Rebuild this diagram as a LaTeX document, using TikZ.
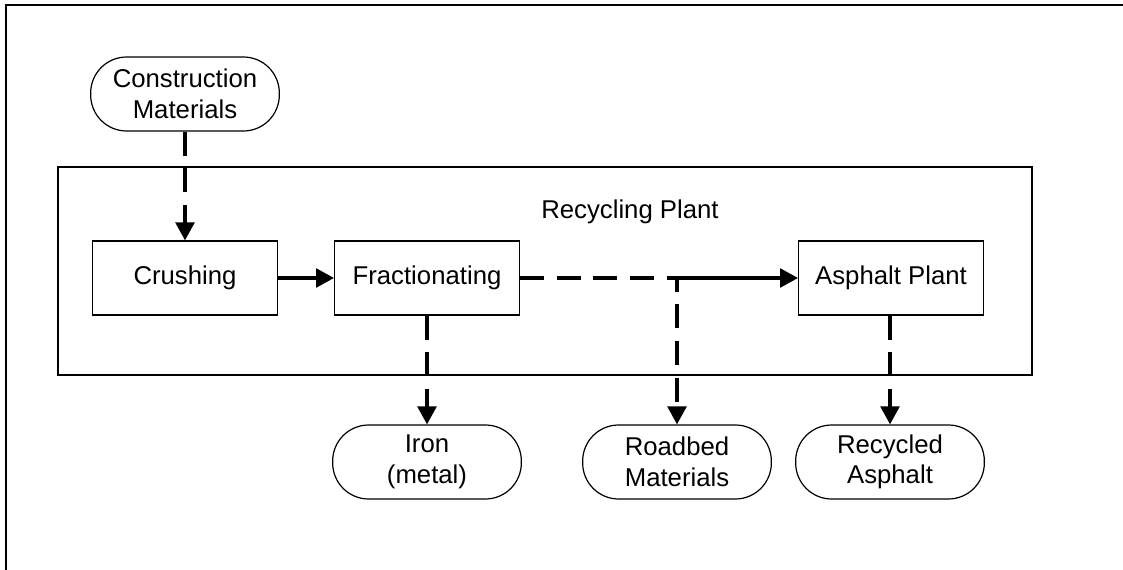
\documentclass[tikz,border=0pt]{standalone}
\usepackage{fontspec}
\setmainfont{Liberation Sans}
\usepackage{tikz}
\usetikzlibrary{arrows.meta}

\begin{document}
\begin{tikzpicture}[
        x=0.75pt, y=-0.75pt,
        every node/.style={font=\fontsize{19.3}{23}\selectfont},
        stage/.style={draw, line width=0.9pt, minimum width=138.5pt, minimum height=55.5pt, align=center, inner sep=0pt},
        term/.style={draw, line width=0.9pt, rounded corners=27pt, minimum width=141.5pt, minimum height=55.5pt, align=center, inner sep=0pt},
        flow/.style={-{Triangle[length=13.5pt, width=14pt]}, line width=2.6pt},
        dflow/.style={flow, dash pattern=on 18pt off 9.5pt}
    ]
        \useasboundingbox (0,0) rectangle (1123,570);
        \draw[line width=1.8pt] (6,570) -- (6,5) -- (1123,5);

        \node[draw, line width=1pt, minimum width=730.5pt, minimum height=156pt, inner sep=0pt] (plant) at (545,271) {};
        \node (plantlabel) at (630,212) {Recycling Plant};

        \node[term] (constr) at (185,94) {Construction\\Materials};
        \node[stage] (crush) at (185,278) {Crushing};
        \node[stage] (frac) at (427,278) {Fractionating};
        \node[stage] (asph) at (891,278) {Asphalt Plant};
        \node[term] (iron) at (427,462) {Iron\\(metal)};
        \node[term] (road) at (677,462) {Roadbed\\Materials};
        \node[term] (recyc) at (890,462) {Recycled\\Asphalt};
        \coordinate (split) at (677,278);

        \draw[dflow] (constr.south) -- (crush.north);
        \draw[flow] (crush.east) -- (frac.west);
        \draw[dflow] (frac.east) -- (split) -- (road.north);
        \draw[flow] (split) -- (asph.west);
        \draw[dflow] (frac.south) -- (iron.north);
        \draw[dflow] (asph.south -| recyc.north) -- (recyc.north);
    \end{tikzpicture}
\end{document}
